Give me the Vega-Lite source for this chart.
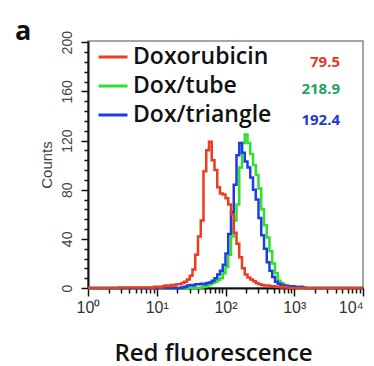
{
  "$schema": "https://vega.github.io/schema/vega-lite/v6.json",
  "width": 275,
  "height": 247,
  "autosize": {"type": "none"},
  "padding": {"left": 88, "top": 41, "right": 11, "bottom": 78},
  "background": "white",
  "title": {"text": "a", "anchor": "start", "frame": "bounds", "font": "Open Sans", "fontSize": 27, "fontWeight": "bold", "color": "#111", "baseline": "alphabetic", "dx": -24, "dy": 34, "offset": -2},
  "config": {
    "view": {"stroke": "#888", "strokeWidth": 1.5},
    "axis": {"grid": false}
  },
  "datasets": {
    "hist": [
      {"series": "Doxorubicin", "x": 1, "count": 0},
      {"series": "Doxorubicin", "x": 7.943, "count": 0.5},
      {"series": "Doxorubicin", "x": 8.71, "count": 0},
      {"series": "Doxorubicin", "x": 9.55, "count": 1},
      {"series": "Doxorubicin", "x": 10.47, "count": 1},
      {"series": "Doxorubicin", "x": 11.48, "count": 0.5},
      {"series": "Doxorubicin", "x": 12.59, "count": 1.5},
      {"series": "Doxorubicin", "x": 13.8, "count": 2},
      {"series": "Doxorubicin", "x": 15.14, "count": 1.5},
      {"series": "Doxorubicin", "x": 16.6, "count": 2.5},
      {"series": "Doxorubicin", "x": 18.2, "count": 2},
      {"series": "Doxorubicin", "x": 19.95, "count": 3},
      {"series": "Doxorubicin", "x": 21.88, "count": 3},
      {"series": "Doxorubicin", "x": 23.99, "count": 4},
      {"series": "Doxorubicin", "x": 26.3, "count": 5},
      {"series": "Doxorubicin", "x": 28.84, "count": 7},
      {"series": "Doxorubicin", "x": 31.62, "count": 10},
      {"series": "Doxorubicin", "x": 34.67, "count": 15},
      {"series": "Doxorubicin", "x": 38.02, "count": 27},
      {"series": "Doxorubicin", "x": 41.69, "count": 42},
      {"series": "Doxorubicin", "x": 45.71, "count": 55},
      {"series": "Doxorubicin", "x": 50.12, "count": 95},
      {"series": "Doxorubicin", "x": 54.95, "count": 112},
      {"series": "Doxorubicin", "x": 60.26, "count": 119},
      {"series": "Doxorubicin", "x": 66.07, "count": 104},
      {"series": "Doxorubicin", "x": 72.44, "count": 96},
      {"series": "Doxorubicin", "x": 79.43, "count": 82},
      {"series": "Doxorubicin", "x": 87.1, "count": 77},
      {"series": "Doxorubicin", "x": 95.5, "count": 76},
      {"series": "Doxorubicin", "x": 104.7, "count": 73},
      {"series": "Doxorubicin", "x": 114.8, "count": 68},
      {"series": "Doxorubicin", "x": 125.9, "count": 60},
      {"series": "Doxorubicin", "x": 138.0, "count": 45},
      {"series": "Doxorubicin", "x": 151.4, "count": 36},
      {"series": "Doxorubicin", "x": 166.0, "count": 25},
      {"series": "Doxorubicin", "x": 182.0, "count": 16},
      {"series": "Doxorubicin", "x": 199.5, "count": 11},
      {"series": "Doxorubicin", "x": 218.8, "count": 8.5},
      {"series": "Doxorubicin", "x": 239.9, "count": 7},
      {"series": "Doxorubicin", "x": 263.0, "count": 5.5},
      {"series": "Doxorubicin", "x": 288.4, "count": 4},
      {"series": "Doxorubicin", "x": 316.2, "count": 3},
      {"series": "Doxorubicin", "x": 346.7, "count": 2.5},
      {"series": "Doxorubicin", "x": 380.2, "count": 2},
      {"series": "Doxorubicin", "x": 416.9, "count": 2},
      {"series": "Doxorubicin", "x": 457.1, "count": 1.5},
      {"series": "Doxorubicin", "x": 501.2, "count": 1.5},
      {"series": "Doxorubicin", "x": 549.5, "count": 1},
      {"series": "Doxorubicin", "x": 602.6, "count": 1},
      {"series": "Doxorubicin", "x": 660.7, "count": 0.5},
      {"series": "Doxorubicin", "x": 724.4, "count": 1},
      {"series": "Doxorubicin", "x": 794.3, "count": 0.5},
      {"series": "Doxorubicin", "x": 871.0, "count": 0},
      {"series": "Doxorubicin", "x": 10000, "count": 0},

      {"series": "Dox/tube", "x": 1, "count": 0},
      {"series": "Dox/tube", "x": 41.69, "count": 0},
      {"series": "Dox/tube", "x": 45.71, "count": 0.5},
      {"series": "Dox/tube", "x": 50.12, "count": 1},
      {"series": "Dox/tube", "x": 54.95, "count": 2},
      {"series": "Dox/tube", "x": 60.26, "count": 3},
      {"series": "Dox/tube", "x": 66.07, "count": 4},
      {"series": "Dox/tube", "x": 72.44, "count": 5},
      {"series": "Dox/tube", "x": 79.43, "count": 6.5},
      {"series": "Dox/tube", "x": 87.1, "count": 8},
      {"series": "Dox/tube", "x": 95.5, "count": 12},
      {"series": "Dox/tube", "x": 104.7, "count": 17},
      {"series": "Dox/tube", "x": 114.8, "count": 27},
      {"series": "Dox/tube", "x": 125.9, "count": 42},
      {"series": "Dox/tube", "x": 138.0, "count": 55},
      {"series": "Dox/tube", "x": 151.4, "count": 68},
      {"series": "Dox/tube", "x": 166.0, "count": 98},
      {"series": "Dox/tube", "x": 182.0, "count": 118},
      {"series": "Dox/tube", "x": 199.5, "count": 125},
      {"series": "Dox/tube", "x": 218.8, "count": 118},
      {"series": "Dox/tube", "x": 239.9, "count": 109},
      {"series": "Dox/tube", "x": 263.0, "count": 100},
      {"series": "Dox/tube", "x": 288.4, "count": 92},
      {"series": "Dox/tube", "x": 316.2, "count": 81},
      {"series": "Dox/tube", "x": 346.7, "count": 64},
      {"series": "Dox/tube", "x": 380.2, "count": 51},
      {"series": "Dox/tube", "x": 416.9, "count": 41},
      {"series": "Dox/tube", "x": 457.1, "count": 30},
      {"series": "Dox/tube", "x": 501.2, "count": 20},
      {"series": "Dox/tube", "x": 549.5, "count": 12},
      {"series": "Dox/tube", "x": 602.6, "count": 6},
      {"series": "Dox/tube", "x": 660.7, "count": 4},
      {"series": "Dox/tube", "x": 724.4, "count": 2.5},
      {"series": "Dox/tube", "x": 794.3, "count": 2},
      {"series": "Dox/tube", "x": 871.0, "count": 1.5},
      {"series": "Dox/tube", "x": 955.0, "count": 1},
      {"series": "Dox/tube", "x": 1047, "count": 0.5},
      {"series": "Dox/tube", "x": 1148, "count": 0},
      {"series": "Dox/tube", "x": 10000, "count": 0},

      {"series": "Dox/triangle", "x": 1, "count": 0},
      {"series": "Dox/triangle", "x": 21.88, "count": 0},
      {"series": "Dox/triangle", "x": 23.99, "count": 0.5},
      {"series": "Dox/triangle", "x": 26.3, "count": 1},
      {"series": "Dox/triangle", "x": 28.84, "count": 2},
      {"series": "Dox/triangle", "x": 31.62, "count": 2.5},
      {"series": "Dox/triangle", "x": 34.67, "count": 2},
      {"series": "Dox/triangle", "x": 38.02, "count": 3},
      {"series": "Dox/triangle", "x": 41.69, "count": 3},
      {"series": "Dox/triangle", "x": 45.71, "count": 3.5},
      {"series": "Dox/triangle", "x": 50.12, "count": 3},
      {"series": "Dox/triangle", "x": 54.95, "count": 4},
      {"series": "Dox/triangle", "x": 60.26, "count": 4.5},
      {"series": "Dox/triangle", "x": 66.07, "count": 6},
      {"series": "Dox/triangle", "x": 72.44, "count": 8},
      {"series": "Dox/triangle", "x": 79.43, "count": 11},
      {"series": "Dox/triangle", "x": 87.1, "count": 14},
      {"series": "Dox/triangle", "x": 95.5, "count": 19},
      {"series": "Dox/triangle", "x": 104.7, "count": 28},
      {"series": "Dox/triangle", "x": 114.8, "count": 44},
      {"series": "Dox/triangle", "x": 125.9, "count": 62},
      {"series": "Dox/triangle", "x": 138.0, "count": 84},
      {"series": "Dox/triangle", "x": 151.4, "count": 108},
      {"series": "Dox/triangle", "x": 166.0, "count": 118},
      {"series": "Dox/triangle", "x": 182.0, "count": 110},
      {"series": "Dox/triangle", "x": 199.5, "count": 103},
      {"series": "Dox/triangle", "x": 218.8, "count": 98},
      {"series": "Dox/triangle", "x": 239.9, "count": 90},
      {"series": "Dox/triangle", "x": 263.0, "count": 80},
      {"series": "Dox/triangle", "x": 288.4, "count": 72},
      {"series": "Dox/triangle", "x": 316.2, "count": 57},
      {"series": "Dox/triangle", "x": 346.7, "count": 43},
      {"series": "Dox/triangle", "x": 380.2, "count": 32},
      {"series": "Dox/triangle", "x": 416.9, "count": 21},
      {"series": "Dox/triangle", "x": 457.1, "count": 14},
      {"series": "Dox/triangle", "x": 501.2, "count": 9},
      {"series": "Dox/triangle", "x": 549.5, "count": 5},
      {"series": "Dox/triangle", "x": 602.6, "count": 3.5},
      {"series": "Dox/triangle", "x": 660.7, "count": 2.5},
      {"series": "Dox/triangle", "x": 724.4, "count": 2},
      {"series": "Dox/triangle", "x": 794.3, "count": 1.5},
      {"series": "Dox/triangle", "x": 871.0, "count": 1},
      {"series": "Dox/triangle", "x": 955.0, "count": 1.5},
      {"series": "Dox/triangle", "x": 1047, "count": 1},
      {"series": "Dox/triangle", "x": 1148, "count": 0.5},
      {"series": "Dox/triangle", "x": 1259, "count": 1},
      {"series": "Dox/triangle", "x": 1380, "count": 0.5},
      {"series": "Dox/triangle", "x": 1514, "count": 0},
      {"series": "Dox/triangle", "x": 10000, "count": 0}
    ],
    "means": [
      {"series": "Doxorubicin", "mean": "79.5"},
      {"series": "Dox/tube", "mean": "218.9"},
      {"series": "Dox/triangle", "mean": "192.4"}
    ]
  },
  "resolve": {"axis": {"x": "independent", "y": "independent"}},
  "layer": [
    {
      "data": {"name": "hist"},
      "transform": [{"filter": "datum.series === 'Dox/tube'"}],
      "mark": {"type": "line", "interpolate": "step", "strokeWidth": 2.5},
      "encoding": {
        "x": {"field": "x", "type": "quantitative",
          "scale": {"type": "log", "domain": [1, 10000], "nice": false},
          "axis": {"orient": "bottom", "values": [1, 10, 100, 1000],
            "labelExpr": "'10' + ['⁰','¹','²','³','⁴'][round(log(datum.value)/LN10)]",
            "domainColor": "#111", "domainWidth": 2, "tickColor": "#111", "tickWidth": 1.5, "tickSize": 8,
            "labelFont": "Liberation Sans", "labelFontSize": 16, "labelColor": "#333", "labelPadding": 3, "labelFlush": false,
            "title": "Red fluorescence", "titleFont": "Open Sans", "titleFontSize": 24, "titleFontWeight": 600, "titleColor": "#111",
            "titleX": 125, "titleY": 72, "titleBaseline": "alphabetic"}},
        "y": {"field": "count", "type": "quantitative",
          "scale": {"domain": [0, 201], "nice": false},
          "axis": {"orient": "left", "values": [0, 40, 80, 120, 160, 200],
            "labelAngle": 270, "labelAlign": "center", "labelBaseline": "bottom",
            "domainColor": "#111", "domainWidth": 2, "tickColor": "#111", "tickWidth": 1.5, "tickSize": 7,
            "labelFont": "Liberation Sans", "labelFontSize": 14, "labelColor": "#444", "labelPadding": 7,
            "title": "Counts", "titleFont": "Liberation Sans", "titleFontSize": 15, "titleFontWeight": "normal", "titleColor": "#444", "titlePadding": 6}},
        "color": {"field": "series", "type": "nominal",
          "scale": {"domain": ["Doxorubicin", "Dox/tube", "Dox/triangle"], "range": ["#ec3d1c", "#2fe02f", "#1c3ce6"]},
          "legend": {"orient": "none", "legendX": 9, "legendY": 0, "title": null, "padding": 0,
            "symbolType": "stroke", "symbolSize": 841, "symbolStrokeWidth": 3,
            "labelFont": "Open Sans", "labelFontSize": 23, "labelFontWeight": 600, "labelColor": "#111",
            "labelOffset": 4, "rowPadding": 1, "labelLimit": 300}}
      }
    },
    {
      "data": {"name": "hist"},
      "transform": [{"filter": "datum.series === 'Dox/triangle'"}],
      "mark": {"type": "line", "interpolate": "step", "strokeWidth": 2.5},
      "encoding": {
        "x": {"field": "x", "type": "quantitative",
          "axis": {"orient": "bottom", "values": [2,3,4,5,6,7,8,9,20,30,40,50,60,70,80,90,200,300,400,500,600,700,800,900,2000,3000,4000,5000,6000,7000,8000,9000],
            "labels": false, "domain": false, "tickColor": "#111", "tickWidth": 1.5, "tickSize": 5, "title": null}},
        "y": {"field": "count", "type": "quantitative",
          "axis": {"orient": "left", "values": [8,16,24,32,48,56,64,72,88,96,104,112,128,136,144,152,168,176,184,192],
            "labels": false, "domain": false, "tickColor": "#111", "tickWidth": 1.5, "tickSize": 4, "title": null}},
        "color": {"field": "series", "type": "nominal"}
      }
    },
    {
      "data": {"name": "hist"},
      "transform": [{"filter": "datum.series === 'Doxorubicin'"}],
      "mark": {"type": "line", "interpolate": "step", "strokeWidth": 2.5},
      "encoding": {
        "x": {"field": "x", "type": "quantitative",
          "axis": {"orient": "bottom", "values": [10000],
            "labelExpr": "'10⁴'", "labelAlign": "right", "labelDx": 8,
            "domain": false, "tickColor": "#111", "tickWidth": 1.5, "tickSize": 8,
            "labelFont": "Liberation Sans", "labelFontSize": 16, "labelColor": "#333", "labelPadding": 3, "labelFlush": false, "title": null}},
        "y": {"field": "count", "type": "quantitative", "axis": null},
        "color": {"field": "series", "type": "nominal"}
      }
    },
    {
      "data": {"name": "means"},
      "transform": [{"filter": "datum.series === 'Doxorubicin'"}],
      "mark": {"type": "text", "align": "right", "baseline": "middle", "font": "Open Sans", "fontSize": 15, "fontWeight": "bold", "color": "#e03a26"},
      "encoding": {
        "x": {"datum": 4630, "type": "quantitative", "axis": null},
        "y": {"datum": 184, "type": "quantitative", "axis": null},
        "text": {"field": "mean"}
      }
    },
    {
      "data": {"name": "means"},
      "transform": [{"filter": "datum.series === 'Dox/tube'"}],
      "mark": {"type": "text", "align": "right", "baseline": "middle", "font": "Open Sans", "fontSize": 15, "fontWeight": "bold", "color": "#27a060"},
      "encoding": {
        "x": {"datum": 4630, "type": "quantitative", "axis": null},
        "y": {"datum": 162, "type": "quantitative", "axis": null},
        "text": {"field": "mean"}
      }
    },
    {
      "data": {"name": "means"},
      "transform": [{"filter": "datum.series === 'Dox/triangle'"}],
      "mark": {"type": "text", "align": "right", "baseline": "middle", "font": "Open Sans", "fontSize": 15, "fontWeight": "bold", "color": "#2438c4"},
      "encoding": {
        "x": {"datum": 4630, "type": "quantitative", "axis": null},
        "y": {"datum": 137, "type": "quantitative", "axis": null},
        "text": {"field": "mean"}
      }
    }
  ]
}
